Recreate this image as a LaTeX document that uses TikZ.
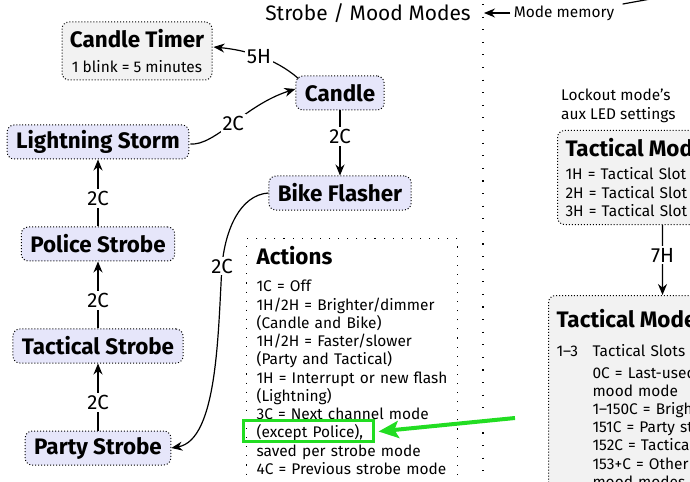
\documentclass[tikz,border=0pt]{standalone}
\usepackage{fontspec}
\setmainfont{Fira Sans}
\usetikzlibrary{arrows.meta,positioning,calc}
\definecolor{modefill}{HTML}{E6E6FA}
\definecolor{notefill}{HTML}{F2F2F2}
\definecolor{hlgreen}{HTML}{22DD22}
\newcommand\headfont{\fontsize{22.5}{26}\selectfont}
\newcommand\notefont{\fontsize{15.5}{18.3}\selectfont}
\tikzset{
  modenode/.style={
    rectangle, rounded corners=7bp, draw=black, dotted, line width=1bp,
    fill=modefill, minimum height=34bp, inner xsep=9bp,
    font=\headfont\bfseries
  },
  notenode/.style={
    rectangle, rounded corners=7bp, draw=black, dotted, line width=1bp,
    fill=notefill, align=left, font=\notefont
  },
  loosebox/.style={draw=black, line width=1.1bp, dash pattern=on 1.1bp off 8bp},
  modearrow/.style={-{Stealth[length=11bp,width=9bp]}, line width=1.2bp, draw=black},
  modeline/.style={line width=1.2bp, draw=black},
  modelabel/.style={fill=white, inner sep=2bp, font=\fontsize{20.5}{24}\selectfont},
}
\begin{document}
\begin{tikzpicture}[x=1bp, y=-1bp, node distance=67bp and 20bp]
  \useasboundingbox (0,0) rectangle (690,482);
  \clip (0,0) rectangle (690,482);

  % cluster edge
  \draw[loosebox, dash pattern=on 1.1bp off 11.5bp] (483,4) -- (483,482);
  \node (title) [font=\fontsize{21}{25}\selectfont] at (368,13) {Strobe / Mood Modes};

  % strobe modes
  \node (party) [modenode] at (98,448) {Party Strobe};
  \node (tactical) [modenode, above=of party] {Tactical Strobe};
  \node (police) [modenode, above=of tactical] {Police Strobe};
  \node (storm) [modenode, above=of police] {Lightning Storm};
  \node (candle) [modenode] at (340,93) {Candle};
  \node (bike) [modenode, below=65bp of candle] {Bike Flasher};
  \node (timer) [notenode, align=center, minimum width=150bp, minimum height=58bp] at (137,51)
    {{\headfont\bfseries Candle Timer}\\[6bp] 1 blink = 5 minutes};

  \draw[modearrow] ($(candle.north west)+(3,3)$) .. controls (275,58) and (245,50) ..
    node[modelabel]{5H} ($(timer.east)+(1,-4)$);
  \draw[modearrow] ($(storm.east)+(1,2)$) .. controls (215,146) and (245,105) ..
    node[modelabel]{2C} ($(candle.west)+(0,-4)$);
  \draw[modearrow] (candle) -- node[modelabel, pos=0.4]{2C} (bike);
  \draw[modearrow] (bike.west) .. controls (240,195) and (225,230) .. (222,266)
    node[modelabel]{2C} .. controls (218,330) and (218,440) .. (party.east);
  \draw[modearrow] (party) -- node[modelabel, pos=0.42]{2C} (tactical);
  \draw[modearrow] (tactical) -- node[modelabel, pos=0.42]{2C} (police);
  \draw[modearrow] (police) -- node[modelabel, pos=0.42]{2C} (storm);

  % actions
  \node (actions) [loosebox, anchor=north west, text width=191bp, inner xsep=10bp,
    inner ysep=8bp, minimum height=240bp, align=left, font=\notefont] at (246,238)
    {{\headfont\bfseries Actions}\\[9bp]
     1C = Off\\
     1H/2H = Brighter/dimmer\\
     (Candle and Bike)\\
     1H/2H = Faster/slower\\
     (Party and Tactical)\\
     1H = Interrupt or new flash\\
     (Lightning)\\
     3C = Next channel mode\\
     (except Police),\\
     saved per strobe mode\\
     4C = Previous strobe mode};
  \node (police hl) [draw=hlgreen, line width=3bp, minimum width=130bp, minimum height=21bp,
    inner sep=0pt] at (308,430.5) {};
  \coordinate (hl from) at (515,418);
  \draw[hlgreen, line width=4bp, -{Stealth[length=20bp,width=17bp,inset=4bp]}]
    (hl from) -- ($(police hl.east)+(4,1)$);

  % mode memory
  \node (memory) [font=\notefont] at (564,13) {Mode memory};
  \coordinate (memory src) at (700,-10);
  \coordinate (memory hit) at (484,13);
  \draw[modeline] (memory src) -- ($(memory.north east)+(5,2)$);
  \draw[modearrow] (memory.west) -- (memory hit);

  % tactical mode
  \node (lockout) [anchor=north west, align=left, font=\notefont, inner sep=0pt] at (561,89)
    {Lockout mode's\\ aux LED settings};
  \node (tac aux) [notenode, anchor=north west, text width=194bp,
    inner xsep=8bp, inner ysep=8bp] at (557,130)
    {{\headfont\bfseries Tactical Mode}\\[5bp]
     1H = Tactical Slot 1\\
     2H = Tactical Slot 2\\
     3H = Tactical Slot 3};
  \node (tac main) [notenode, anchor=north west, text width=212bp, inner xsep=8bp,
    inner ysep=14bp] at (548,295)
    {{\headfont\bfseries Tactical Mode}\\[15bp]
     \begin{tabular}{@{}p{28bp}@{\hspace{8bp}}l@{}}
       1--3 & Tactical Slots\\[3bp]
            & 0C = Last-used strobe/\\
            & mood mode\\
            & 1--150C = Brightness\\
            & 151C = Party strobe\\
            & 152C = Tactical strobe\\
            & 153+C = Other strobe/\\
            & mood modes
     \end{tabular}};
  \draw[modearrow] (tac aux) -- node[modelabel, pos=0.43]{7H} (tac main);
\end{tikzpicture}
\end{document}
